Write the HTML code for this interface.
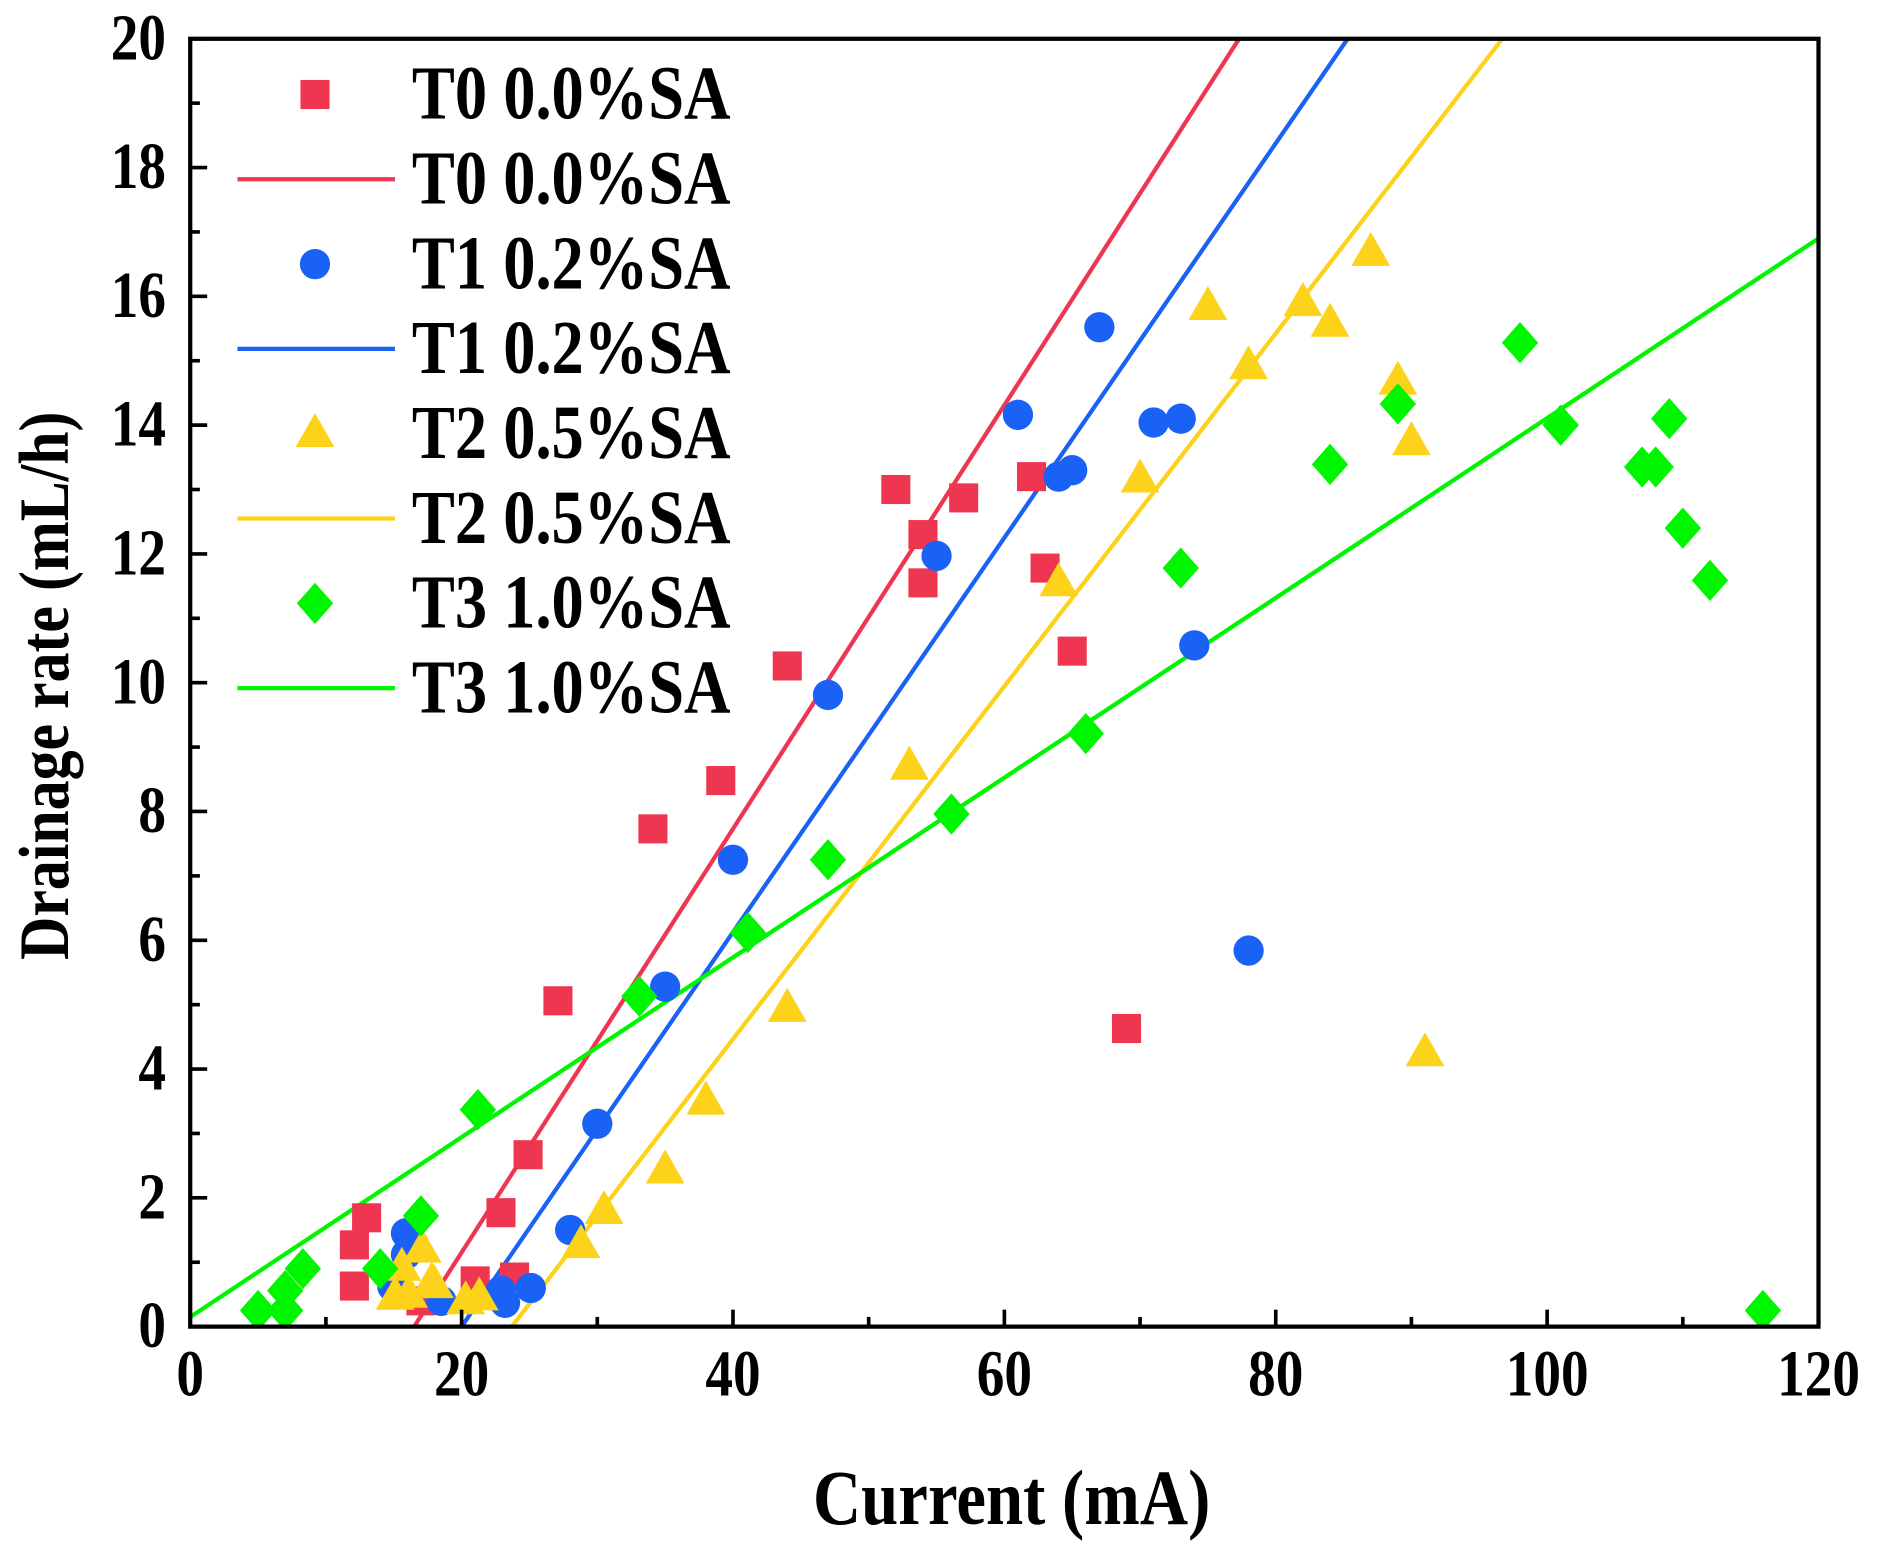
<!DOCTYPE html>
<html><head><meta charset="utf-8"><style>
html,body{margin:0;padding:0;background:#fff;}
svg{display:block;}
text{font-family:"Liberation Serif",serif;font-weight:bold;fill:#000;}
</style></head><body>
<svg id="chart" width="1890" height="1555" viewBox="0 0 1560 1283.5">
<g id="marks"></g>
<g id="axes"></g>
<g id="legend"></g>
</svg>
<script>
const xTicks=[0,20,40,60,80,100,120];
const yTicks=[0,2,4,6,8,10,12,14,16,18,20];
const t0x=[12.1,12.1,13.0,17,21,22.9,23.9,24.9,27.1,34.1,39.1,44.0,52,54,54,57,62,63,65,69];
const t0y=[0.63,1.27,1.69,0.4,0.71,1.77,0.77,2.67,5.06,7.73,8.48,10.26,13.0,12.3,11.55,12.87,13.2,11.78,10.49,4.63];
const t1x=[14.9,15.9,15.9,18.5,22.9,23.2,25.1,28,30,35,40,47,55,61,64,65,67,71,73,74,78];
const t1y=[0.62,1.12,1.45,0.4,0.56,0.37,0.6,1.5,3.15,5.28,7.25,9.81,11.97,14.16,13.2,13.3,15.52,14.04,14.1,10.58,5.84];
const t2x=[15.1,15.6,16.1,17.1,17.8,18,20.3,21.3,28.8,30.5,35,38,44,53,64,70,75,78,82,84,87,89,90,91];
const t2y=[0.47,0.92,0.5,1.2,0.69,0.65,0.4,0.46,1.27,1.8,2.43,3.5,4.94,8.7,11.55,13.16,15.84,14.92,15.9,15.58,16.68,14.68,13.74,4.25];
const t3x=[5,7,7,8.3,14,17,21.2,33.1,41.1,47,56.1,66,73,84,89,98,101,107,108,109,110,112,115.9];
const t3y=[0.25,0.25,0.56,0.9,0.9,1.72,3.37,5.13,6.12,7.25,7.96,9.21,11.78,13.39,14.33,15.28,14.0,13.35,13.35,14.1,12.4,11.59,0.25];
const fitT0=[16.5,0,77.3,20];
const fitT1=[20.0,0,85.3,20];
const fitT2=[23.7,0,96.7,20];
const fitT3=[0,0.15,120,16.9];
const legendLabels=["T0 0.0%SA","T0 0.0%SA","T1 0.2%SA","T1 0.2%SA","T2 0.5%SA","T2 0.5%SA","T3 1.0%SA","T3 1.0%SA"];

const L=157,R=1501,T=32,B=1095;
const sx=v=>L+(v-0)/(120-0)*(R-L);
const sy=v=>B-(v-0)/(20-0)*(B-T);
const NS="http://www.w3.org/2000/svg";
function mk(tag,attrs,parent){const e=document.createElementNS(NS,tag);for(const k in attrs)e.setAttribute(k,attrs[k]);parent.appendChild(e);return e;}
const marks=document.getElementById('marks'),axes=document.getElementById('axes'),legend=document.getElementById('legend');
const C={r:"#EE3650",b:"#1A62F5",y:"#FDD21A",g:"#00F500"};

function square(x,y,p,c){return mk('rect',{x:x-12,y:y-12,width:24,height:24,fill:c},p);}
function circle(x,y,p,c){return mk('circle',{cx:x,cy:y,r:12.5,fill:c},p);}
function tri(x,y,p,c){return mk('polygon',{points:`${x},${y-17} ${x+16},${y+11} ${x-16},${y+11}`,fill:c},p);}
function diamond(x,y,p,c){return mk('polygon',{points:`${x},${y-17} ${x+15},${y} ${x},${y+17} ${x-15},${y}`,fill:c},p);}
function line(f,c,name){const e=mk('line',{x1:sx(f[0]),y1:sy(f[1]),x2:sx(f[2]),y2:sy(f[3]),stroke:c,'stroke-width':3.5},marks);

}
function pts(xs,ys,fn,c,name){xs.forEach((v,i)=>{const e=fn(sx(v),sy(ys[i]),marks,c);

});}
function txt(x,y,size,anchor,s,parent,extra){const t=mk('text',{x:0,y:0,'font-size':size,'text-anchor':anchor,transform:`translate(${x},${y}) ${extra||''} scale(0.95,1.12)`},parent);t.textContent=s;return t;}
const clip=mk('clipPath',{id:'pc'},document.getElementById('chart'));mk('rect',{x:L,y:T,width:R-L,height:B-T},clip);
marks.setAttribute('clip-path','url(#pc)');
line(fitT0,C.r,'t0-fit-line');line(fitT1,C.b,'t1-fit-line');line(fitT2,C.y,'t2-fit-line');line(fitT3,C.g,'t3-fit-line');
pts(t0x,t0y,square,C.r,'t0-point');pts(t1x,t1y,circle,C.b,'t1-point');pts(t2x,t2y,tri,C.y,'t2-point');pts(t3x,t3y,diamond,C.g,'t3-point');

const frame=mk('rect',{x:L,y:T,width:R-L,height:B-T,fill:'none',stroke:'#000','stroke-width':3.5},axes);


for(let v=0;v<=120;v+=10){const maj=v%20===0;mk('line',{x1:sx(v),x2:sx(v),y1:B,y2:B-(maj?14:8),stroke:'#000','stroke-width':3},axes);}
for(let v=0;v<=20;v+=1){const maj=v%2===0;mk('line',{x1:L,x2:L+(maj?14:8),y1:sy(v),y2:sy(v),stroke:'#000','stroke-width':3},axes);}
xTicks.forEach(v=>{const t=txt(sx(v),B+57,48,'middle',String(v),axes);

});
yTicks.forEach(v=>{const t=txt(137,sy(v)+17,48,'end',String(v),axes);

});
const xt=txt(835,1258,58,'middle','Current (mA)',axes);


const yt=txt(56,566,52,'middle','Drainage rate (mL/h)',axes,'rotate(-90)');



const fns=[square,null,circle,null,tri,null,diamond,null];
const cols=[C.r,C.r,C.b,C.b,C.y,C.y,C.g,C.g];
legendLabels.forEach((lab,i)=>{const y=78+i*70;
if(fns[i]){const m=fns[i](260,y,legend,cols[i]);

}
else{const m=mk('line',{x1:196,x2:326,y1:y,y2:y,stroke:cols[i],'stroke-width':3.5},legend);

}
const t=txt(340,y+20,56,'start',lab,legend);

});
</script>
</body></html>
